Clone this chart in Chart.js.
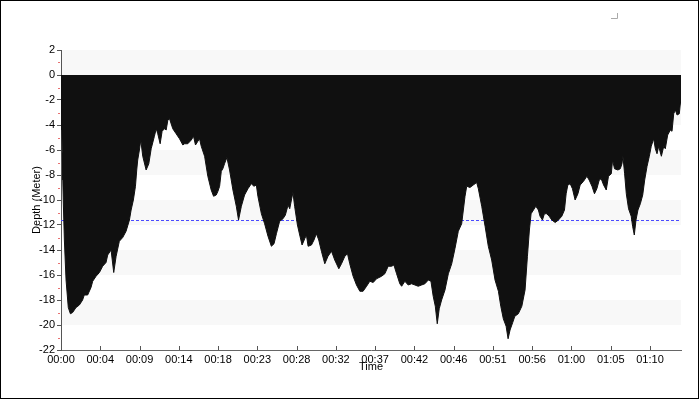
<!DOCTYPE html>
<html>
<head>
<meta charset="utf-8">
<script src="https://cdn.jsdelivr.net/npm/chart.js@4.4.1/dist/chart.umd.min.js"></script>
<style>
  html, body { margin: 0; padding: 0; background: #fff; }
  #wrap { width: 700px; height: 400px; }
</style>
</head>
<body>
<div id="wrap"><canvas id="depthChart" width="700" height="400"></canvas></div>
<script>
// dive profile, time in seconds from start, depth in meters
const times = [0, 6, 9, 13, 16, 24, 36, 52, 67, 83, 107, 131, 154, 166, 190, 214, 226, 250, 274, 297,
  321, 333, 357, 376, 393, 416, 440, 464, 488, 500, 516, 531, 540, 547, 559, 569, 583, 607, 626, 643,
  666, 679, 690, 707, 721, 738, 750, 762, 774, 797, 821, 845, 869, 881, 904, 929, 945, 959, 976, 988,
  1000, 1024, 1047, 1071, 1088, 1107, 1119, 1131, 1143, 1154, 1166, 1183, 1202, 1226, 1250, 1266, 1286, 1309, 1333, 1357,
  1376, 1393, 1404, 1429, 1452, 1476, 1500, 1519, 1536, 1559, 1583, 1600, 1619, 1631, 1643, 1654, 1666, 1686, 1702, 1719,
  1738, 1750, 1762, 1786, 1804, 1821, 1838, 1857, 1881, 1904, 1929, 1952, 1981, 2000, 2024, 2043, 2059, 2083, 2107, 2131,
  2154, 2179, 2202, 2226, 2250, 2286, 2309, 2333, 2357, 2374, 2393, 2416, 2429, 2452, 2476, 2500, 2524, 2547, 2571, 2595,
  2619, 2638, 2654, 2669, 2683, 2697, 2714, 2738, 2762, 2786, 2809, 2833, 2857, 2869, 2881, 2893, 2916, 2940, 2964, 2976,
  3000, 3024, 3047, 3071, 3095, 3119, 3136, 3154, 3174, 3188, 3202, 3221, 3236, 3261, 3286, 3309, 3326, 3340, 3352, 3369,
  3386, 3404, 3416, 3433, 3447, 3464, 3481, 3500, 3524, 3547, 3571, 3590, 3602, 3614, 3631, 3647, 3666, 3686, 3702, 3726,
  3750, 3766, 3786, 3804, 3821, 3838, 3852, 3869, 3888, 3904, 3924, 3933, 3947, 3971, 3988, 4000, 4007, 4019, 4031, 4047,
  4066, 4076, 4088, 4100, 4114, 4131, 4148, 4162, 4179, 4195, 4209, 4226, 4238, 4250, 4262, 4281, 4298, 4309, 4326, 4345,
  4357, 4369, 4381, 4393, 4409, 4416, 4421];
const depths = [0, -4.4, -6.2, -8.4, -10, -13.2, -16.4, -18.6, -19.1, -19.0, -18.6, -18.4, -18.0, -17.6, -17.6, -17.0, -16.5, -16.1, -15.8, -15.3,
  -15.0, -14.4, -14.0, -15.8, -14.5, -13.3, -13.0, -12.5, -11.6, -10.8, -10.0, -8.9, -7.6, -6.8, -6.0, -5.2, -6.5, -7.6, -7.1, -5.9,
  -4.9, -4.3, -4.7, -5.5, -4.5, -4.3, -4.4, -3.6, -3.5, -4.3, -4.7, -5.1, -5.6, -5.5, -5.5, -5.2, -4.9, -5.6, -5.3, -5.1,
  -5.7, -6.5, -8.1, -9.2, -9.7, -9.6, -9.3, -8.9, -7.7, -7.5, -7.1, -6.6, -7.6, -9.2, -10.5, -11.6, -10.5, -9.6, -9.1, -8.7,
  -8.9, -8.8, -9.7, -11.1, -11.9, -12.9, -13.7, -13.5, -12.7, -11.7, -11.5, -11.2, -10.4, -10.7, -10.0, -9.4, -10.5, -12.0, -12.8, -13.6,
  -13.1, -12.8, -13.7, -13.6, -13.2, -12.7, -13.2, -14.1, -15.1, -14.5, -14.1, -14.8, -15.5, -15.1, -14.5, -14.3, -15.1, -16.1, -16.8, -17.3,
  -17.3, -16.9, -16.5, -16.6, -16.3, -16.1, -15.9, -15.3, -15.3, -15.2, -15.9, -16.7, -16.9, -16.5, -16.8, -16.7, -16.8, -16.9, -16.8, -16.7,
  -16.4, -16.5, -17.7, -18.5, -19.9, -18.7, -18.0, -17.2, -15.9, -15.1, -13.9, -12.5, -11.9, -10.8, -9.7, -8.9, -9.0, -8.8, -8.6, -9.1,
  -10.5, -12.1, -13.7, -14.8, -16.4, -17.3, -18.5, -19.5, -20.1, -21.1, -20.4, -19.8, -19.3, -19.1, -18.5, -17.2, -14.5, -12.4, -11.1, -10.8,
  -10.5, -10.8, -11.3, -11.6, -11.1, -11.1, -11.3, -11.6, -11.8, -11.6, -11.3, -10.8, -9.5, -8.8, -8.7, -9.1, -10.0, -9.5, -8.8, -8.5,
  -8.1, -8.4, -8.9, -9.5, -9.1, -8.4, -8.3, -8.8, -9.2, -8.1, -7.9, -6.8, -7.5, -7.6, -7.5, -7.1, -6.5, -7.9, -9.5, -10.7,
  -11.3, -12.1, -12.8, -11.6, -10.8, -10.3, -9.6, -8.4, -7.3, -6.5, -5.7, -5.1, -5.9, -6.3, -5.7, -6.5, -5.7, -5.9, -4.8, -4.4,
  -4.5, -3.1, -2.8, -3.2, -3.1, -2.3, -2.3];

const tickTimes = [0, 280, 560, 840, 1120, 1400, 1680, 1960, 2240, 2520, 2800, 3080, 3360, 3640, 3920, 4200];
const tickLabels = ['00:00', '00:04', '00:09', '00:14', '00:18', '00:23', '00:28', '00:32',
  '00:37', '00:42', '00:46', '00:51', '00:56', '01:00', '01:05', '01:10'];
const depthMin = -22;
const depthMax = 2;
const depthStep = 2;
const refDepth = -11.6;

const FONT = 'Liberation Sans, Arial, sans-serif';

// striped background, reference line, custom tick marks and frame
const decorPlugin = {
    id: 'decor',
    beforeDraw(chart) {
        const ctx = chart.ctx;
        const area = chart.chartArea;
        const y = chart.scales.y;
        ctx.save();
        ctx.fillStyle = '#f8f8f8';
        for (let v = depthMax; v > depthMin; v -= depthStep * 2) {
            const top = y.getPixelForValue(v);
            const bottom = y.getPixelForValue(v - depthStep);
            ctx.fillRect(area.left, top, area.right - area.left, bottom - top);
        }
        ctx.restore();
    },
    beforeDatasetsDraw(chart) {
        const ctx = chart.ctx;
        const area = chart.chartArea;
        const py = Math.round(chart.scales.y.getPixelForValue(refDepth)) + 0.5;
        ctx.save();
        ctx.strokeStyle = '#4b4bff';
        ctx.lineWidth = 1;
        ctx.setLineDash([3, 2]);
        ctx.beginPath();
        ctx.moveTo(area.left, py);
        ctx.lineTo(area.right, py);
        ctx.stroke();
        ctx.restore();
    },
    afterDraw(chart) {
        const ctx = chart.ctx;
        const area = chart.chartArea;
        const x = chart.scales.x;
        const y = chart.scales.y;
        ctx.save();
        // x ticks pointing up into the plot
        ctx.strokeStyle = '#555';
        ctx.lineWidth = 1;
        tickTimes.forEach(t => {
            const px = Math.round(x.getPixelForValue(t)) + 0.5;
            ctx.beginPath();
            ctx.moveTo(px, area.bottom);
            ctx.lineTo(px, area.bottom - 4);
            ctx.stroke();
        });
        // red minor ticks on depth axis
        ctx.strokeStyle = '#e87070';
        for (let v = depthMax - 1; v > depthMin; v -= depthStep) {
            const py = Math.round(y.getPixelForValue(v)) + 0.5;
            ctx.beginPath();
            ctx.moveTo(area.left - 3, py);
            ctx.lineTo(area.left - 1, py);
            ctx.stroke();
        }
        // outer frame
        ctx.strokeStyle = '#000';
        ctx.strokeRect(0.5, 0.5, 698, 398);
        // little corner mark
        ctx.strokeStyle = '#aaa';
        ctx.beginPath();
        ctx.moveTo(611, 18.5);
        ctx.lineTo(617.5, 18.5);
        ctx.lineTo(617.5, 13);
        ctx.stroke();
        ctx.restore();
    }
};

const points = times.map((t, i) => ({ x: t, y: depths[i] }));

new Chart(document.getElementById('depthChart'), {
    type: 'line',
    data: {
        datasets: [{
            data: points,
            borderColor: '#101010',
            backgroundColor: '#101010',
            borderWidth: 1,
            pointRadius: 0,
            tension: 0,
            fill: 'origin'
        }]
    },
    options: {
        responsive: false,
        animation: false,
        devicePixelRatio: 1,
        layout: { padding: { top: 50, right: 19, bottom: 0, left: 0 } },
        plugins: {
            legend: { display: false },
            tooltip: { enabled: false }
        },
        scales: {
            x: {
                type: 'linear',
                min: 0,
                max: times[times.length - 1],
                afterBuildTicks: scale => {
                    scale.ticks = tickTimes.map(v => ({ value: v }));
                },
                afterFit: scale => { scale.height = 50; },
                grid: { display: false, drawTicks: false },
                border: { display: true, color: '#666', width: 1 },
                ticks: {
                    autoSkip: false,
                    maxRotation: 0,
                    padding: 3,
                    color: '#000',
                    font: { family: FONT, size: 11 },
                    callback: (value, index) => tickLabels[index]
                },
                title: {
                    display: true,
                    text: 'Time',
                    color: '#000',
                    font: { family: FONT, size: 11 },
                    padding: { top: 0, bottom: 26 }
                }
            },
            y: {
                min: depthMin,
                max: depthMax,
                afterFit: scale => { scale.width = 61; },
                grid: { drawOnChartArea: false, drawTicks: true, tickLength: 4, color: '#555' },
                border: { display: true, color: '#555', width: 1 },
                ticks: {
                    stepSize: depthStep,
                    padding: 2,
                    color: '#000',
                    font: { family: FONT, size: 11 }
                },
                title: {
                    display: true,
                    text: 'Depth (Meter)',
                    color: '#000',
                    font: { family: FONT, size: 11 },
                    padding: { top: 30, bottom: 0 }
                }
            }
        }
    },
    plugins: [decorPlugin]
});
</script>
</body>
</html>
